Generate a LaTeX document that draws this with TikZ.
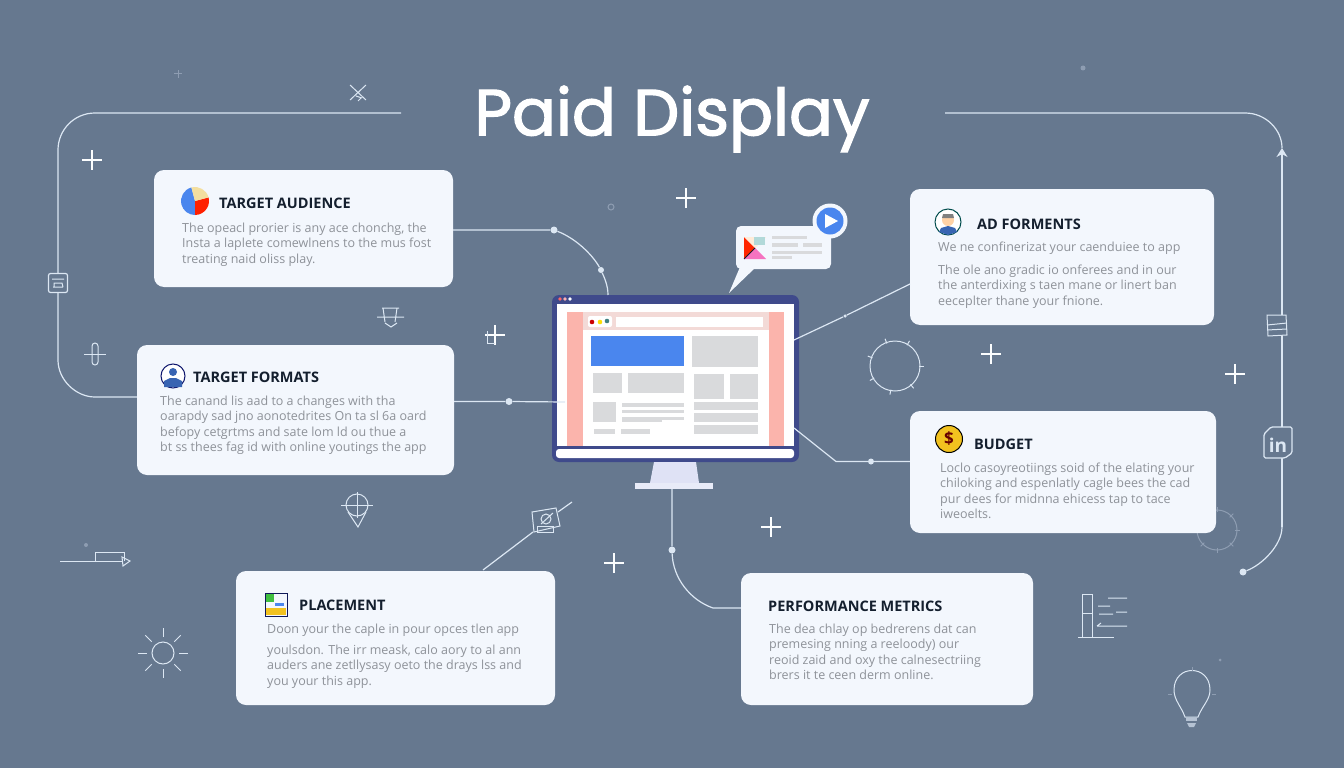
\documentclass[tikz,border=0pt]{standalone}
\usepackage{fontspec}
\usepackage{xcolor}
\usetikzlibrary{arrows.meta}
\setmainfont{Open Sans}
\newfontfamily\titlefont[FakeBold=2]{Poppins}
\definecolor{pagebg}{HTML}{66788F}
\definecolor{cardbg}{HTML}{F3F7FD}
\definecolor{wire}{HTML}{DCE7F3}
\definecolor{faintwire}{HTML}{8E9DB2}
\definecolor{headcol}{HTML}{141F2E}
\definecolor{bodycol}{HTML}{8E9299}
\definecolor{navy}{HTML}{3F4A8B}
\definecolor{blockgray}{HTML}{D9DADC}
\definecolor{stripe}{HTML}{FBB4AC}
\definecolor{adblue}{HTML}{4A86EE}
\definecolor{standcol}{HTML}{DFE2F5}
\definecolor{footcol}{HTML}{E8EBF8}
\definecolor{coincol}{HTML}{F2C21F}
\definecolor{creamcol}{HTML}{F3DFA0}
\tikzset{
  card/.style={fill=cardbg,rounded corners=10pt,inner sep=0pt},
  cardtitle/.style={anchor=west,inner sep=0pt,text=headcol,font=\bfseries\fontsize{14.5}{17}\selectfont},
  cardbody/.style={anchor=north west,inner sep=0pt,align=left,text=bodycol,font=\fontsize{12.5}{15.2}\selectfont},
  link/.style={draw=wire,line width=1.2pt},
  joint/.style={circle,fill=wire,inner sep=0pt,minimum size=7pt},
  sketch/.style={draw=wire,line width=1pt},
  faint/.style={draw=faintwire,line width=1pt},
}
\begin{document}
\begin{tikzpicture}[x=1pt,y=-1pt]
\useasboundingbox (0,0) rectangle (1344,768);
\fill[pagebg] (0,0) rectangle (1344,768);

% gear half hidden by the budget card
\draw[faint] (1217,530) circle (20);
\foreach \a in {0,45,...,315}
  \draw[faint] (1217,530) ++(\a:18) -- ++(\a:5);

% cards
\node[card,minimum width=299pt,minimum height=117pt] (audience) at (303.5,228.5) {};
\node[card,minimum width=317pt,minimum height=130pt] (formats) at (295.5,410) {};
\node[card,minimum width=304pt,minimum height=136pt] (adforms) at (1062,257) {};
\node[card,minimum width=306pt,minimum height=122pt] (budget) at (1063,472) {};
\node[card,minimum width=319pt,minimum height=134pt] (placement) at (395.5,638) {};
\node[card,minimum width=292pt,minimum height=132pt] (metrics) at (887,639) {};

\node at (672,119) [text=white,font=\titlefont\fontsize{65}{70}\selectfont] (pagetitle) {Paid Display};

% card texts
\node[cardtitle] (audiencehead) at (219,203.5) {TARGET AUDIENCE};
\node[cardbody] (audiencetext) at (182,223) {The opeacl prorier is any ace chonchg, the\\Insta a laplete comewlnens to the mus fost\\treating naid oliss play.};
\node[cardtitle] (formatshead) at (193,377.5) {TARGET FORMATS};
\node[cardbody] (formatstext) at (160,396) {The canand lis aad to a changes with tha\\oarapdy sad jno aonotedrites On ta sl 6a oard\\befopy cetgrtms and sate lom ld ou thue a\\bt ss thees fag id with online youtings the app};
\node[cardtitle] (adformshead) at (977,224.5) {AD FORMENTS};
\node[cardbody] (adformsintro) at (938,242) {We ne confinerizat your caenduiee to app};
\node[cardbody] (adformstext) at (938,265) {The ole ano gradic io onferees and in our\\the anterdixing s taen mane or linert ban\\eeceplter thane your fnione.};
\node[cardtitle] (budgethead) at (974,444.5) {BUDGET};
\node[cardbody] (budgettext) at (940,463) {Loclo casoyreotiings soid of the elating your\\chiloking and espenlatly cagle bees the cad\\pur dees for midnna ehicess tap to tace\\iweoelts.};
\node[cardtitle] (placementhead) at (299,605.5) {PLACEMENT};
\node[cardbody] (placementintro) at (267,624) {Doon your the caple in pour opces tlen app};
\node[cardbody] (placementtext) at (267,645) {youlsdon. The irr meask, calo aory to al ann\\auders ane zetllysasy oeto the drays lss and\\you your this app.};
\node[cardtitle] (metricshead) at (768,606.5) {PERFORMANCE METRICS};
\node[cardbody] (metricstext) at (769,624) {The dea chlay op bedrerens dat can\\premesing nning a reeloody) our\\reoid zaid and oxy the calnesectriing\\brers it te ceen derm online.};

% card icons
\begin{scope}[shift={(195,201)},y=1pt]
  \fill[adblue] (0,0) -- (105:14) arc (105:270:14) -- cycle;
  \fill[red!75!orange] (0,0) -- (270:14) arc (270:375:14) -- cycle;
  \fill[creamcol] (0,0) -- (15:14) arc (15:105:14) -- cycle;
\end{scope}
\draw[fill=white,draw=headcol!70!blue,line width=1pt] (173,376) circle (12);
\fill[adblue!75!black] (164,387) -- (164,381) -- (170,378) -- (176,378) -- (182,381) -- (182,387) -- cycle;
\fill[adblue!75!black] (173,372) circle (4);
\draw[fill=white,draw=teal!60!black,line width=1pt] (948,222) circle (13);
\fill[adblue!75!black] (939,232) -- (941,228) -- (948,226) -- (955,228) -- (957,232) -- (948,235) -- cycle;
\fill[orange!35!white] (948,220) circle (6);
\fill[gray] (942,218) -- (943,214) -- (953,214) -- (954,218) -- cycle;
\node[circle,fill=coincol,draw=black,line width=1pt,minimum size=27pt,inner sep=0pt,text=red!40!black,font=\bfseries\fontsize{17}{17}\selectfont] (budgetcoin) at (949,439) {\$};
\draw[fill=cardbg,draw=headcol!80!blue,line width=1pt] (265,593) rectangle (287,616);
\fill[green!50!gray] (266,594) rectangle (274,602);
\fill[coincol] (266,608) rectangle (286,615);
\fill[adblue] (275,603) rectangle (284,606);

% monitor
\node[fill=navy,rounded corners=7pt,minimum width=247pt,minimum height=167pt,inner sep=0pt] (monitor) at (675.5,378.5) {};
\fill[white] (557,304) rectangle (794,446);
\fill[white,rounded corners=3pt] (556,449) rectangle (794,458);
\fill[stripe] (567,312) rectangle (583,446);
\fill[stripe] (769,312) rectangle (784,446);
\fill[black!10!stripe!40!white] (583,312) rectangle (769,330);
\fill[white] (616,317) rectangle (763,327);
\fill[white,rounded corners=2pt] (588,316) rectangle (612,327);
\fill[red!80!black] (592,322) circle (2.3);
\fill[yellow!80!orange] (600,322) circle (2.3);
\fill[teal!50!gray] (607,321) circle (2.3);
\fill[red!60!white] (560,299) circle (1.8);
\fill[white!70!red] (565,299) circle (1.8);
\fill[white] (570,299) circle (1.8);
\fill[adblue] (591,336) rectangle (684,366);
\foreach \xa/\ya/\xb/\yb in {692/336/758/367,593/373/622/393,628/373/684/393,694/374/724/399,730/374/758/399,593/402/616/422,622/403/684/407,622/410/684/413,622/417/662/422,662/417/684/420,594/429/615/434,621/429/650/434,694/402/758/410,694/413/758/422,694/425/758/434}
  \fill[blockgray] (\xa,\ya) rectangle (\xb,\yb);
\fill[standcol] (654,462) -- (696,462) -- (699,483) -- (650,483) -- cycle;
\fill[footcol] (635,483) rectangle (713,489);

% speech bubble
\fill[cardbg] (740,267) -- (729,293) -- (756,267) -- cycle;
\node[fill=cardbg,rounded corners=5pt,minimum width=95pt,minimum height=43pt,inner sep=0pt] (bubble) at (783.5,247.5) {};
\fill[red!70!orange] (744,237) -- (744,259) -- (755,248) -- cycle;
\fill[magenta!55!white] (744,259) -- (766,259) -- (755,248) -- cycle;
\fill[orange!15!white] (744,237) -- (755,248) -- (766,237) -- cycle;
\fill[teal!30!white] (754,237) rectangle (765,245);
\draw[headcol,line width=0.8pt] (744,259) -- (755,248);
\foreach \xa/\ya/\xb/\yb in {772/236/807/239,772/243/798/247,803/243/822/247,772/251/822/254,772/256/792/259}
  \fill[blockgray] (\xa,\ya) rectangle (\xb,\yb);
\node[circle,fill=cardbg,minimum size=35pt,inner sep=0pt] (playring) at (830,221) {};
\node[circle,fill=adblue,minimum size=27pt,inner sep=0pt] (playdisc) at (playring) {};
\fill[white] (825,214) -- (825,228) -- (838,221) -- cycle;

% connectors
\node[joint] (audiencedot) at (554,230) {};
\node[joint,minimum size=6pt] (audiencebend) at (601,270) {};
\coordinate (audienceend) at (608,295);
\draw[link] (audience.east |- audiencedot) -- (audiencedot) .. controls (575,238) and (592,254) .. (audiencebend) .. controls (604,277) and (608,285) .. (audienceend);
\node[joint] (formatsdot) at (509,401.5) {};
\coordinate (formatsend) at (565,402);
\draw[link] (formats.east |- formatsdot) -- (formatsdot) -- (formatsend);
\node[joint,minimum size=3.5pt] (adformsdot) at (845,316) {};
\coordinate (adformsstart) at (910,284);
\coordinate (adformsend) at (794,340);
\draw[link] (adformsstart) -- (adformsdot) -- (adformsend);
\node[joint,minimum size=6pt] (budgetdot) at (871,461.5) {};
\coordinate (budgetbend) at (836,461.5);
\coordinate (budgetend) at (794,428);
\draw[link] (budget.west |- budgetdot) -- (budgetdot) -- (budgetbend) -- (budgetend);
\coordinate (metricsstart) at (672,489);
\node[joint,minimum size=7pt] (metricsdot) at (672,550) {};
\coordinate (metricsbend) at (713,608);
\draw[link] (metricsstart) -- (metricsdot) .. controls (673,578) and (690,600) .. (metricsbend) -- (metrics.west |- metricsbend);
\coordinate (placementstart) at (483,570);
\coordinate (placementicon) at (533,532);
\draw[link] (placementstart) -- (placementicon);
\coordinate (placementtop) at (558,512);
\coordinate (placementfree) at (572,502);
\draw[link] (placementtop) -- (placementfree);
\draw[sketch] (532,512) -- (556,508) -- (560,526) -- (534,532) -- cycle;
\draw[sketch] (537,532) rectangle (553,526);
\draw[sketch] (546,519) circle (5);
\draw[sketch] (541,524) -- (553,513);

% outer frame lines
\coordinate (frameleft) at (401,113);
\draw[link] (frameleft) -- (95,113) .. controls (74,113) and (58,130) .. (58,150) -- (58,360) .. controls (58,380) and (76,397) .. (95,397) -- (formats.west |- 0,397);
\coordinate (frameright) at (945,113);
\node[joint] (frametip) at (1243,572) {};
\coordinate (framelow) at (1282,527);
\coordinate (framehead) at (1282,148);
\draw[link] (frameright) -- (1245,113) .. controls (1266,113) and (1282,130) .. (framehead);
\draw[link,-{Stealth[length=9pt,width=11pt]}] (framelow) -- (framehead);
\draw[link] (frametip) .. controls (1262,565) and (1282,545) .. (framelow);

% icons on the frame
\node[draw=wire,fill=pagebg,line width=1.2pt,rounded corners=2pt,minimum size=19pt,inner sep=0pt] (frameleftbox) at (58,283) {};
\draw[sketch] (52,279) -- (64,279) (53,287) -- (63,287) (54,287) -- (54,283) -- (62,283) -- (63,287);
\draw[sketch,fill=pagebg,line width=1pt] (1267,315) -- (1286,315) -- (1287,335) -- (1268,336) -- cycle;
\draw[sketch] (1267,325) -- (1287,323) (1267,330) -- (1287,329);
\draw[draw=wire,fill=pagebg,line width=1.3pt,rounded corners=1.5pt] (1271,427) -- (1292,427) -- (1292,453) -- (1285,458) -- (1264,458) -- (1264,434) -- cycle;
\node[text=wire,inner sep=0pt,font=\bfseries\fontsize{19}{19}\selectfont] (linkedinmark) at (1278,445) {in};

% loose marks
\foreach \px/\py/\ps in {92/160/10,686/198/10,991/354/10,1235/374/10,771/527/10,614/563/10,495/335/10}
  \draw[draw=white!90!wire,line width=1.1pt] ({\px-\ps},\py) -- ({\px+\ps},\py) ({\px},{\py-\ps}) -- ({\px},{\py+\ps});
\draw[sketch] (487,331) -- (487,343) -- (495,343);
\draw[faint] (174,74) -- (182,74) (178,70) -- (178,78);
\fill[faintwire] (1083,68) circle (2.5);
\draw[faint] (611,207) circle (3);
\fill[faintwire] (1220,660) circle (1.5);
\fill[faintwire] (86,545) circle (2);
\draw[sketch] (350,85) -- (366,100) (366,85) -- (350,100) (356,96) -- (362,98) (358,101) -- (361,98);
% brace mark
\draw[sketch] (377,317) -- (404,317) (382,308) -- (399,308) (383,308) -- (385,322) (397,308) -- (395,322) (385,323) -- (391,327) -- (397,323);
% pin
\draw[sketch] (357,505) circle (11);
\draw[sketch] (341,505) -- (373,505) (357,492) -- (357,518);
\draw[sketch] (348,512) -- (358,527) -- (366,512);
% paper clip
\draw[sketch] (84,354) -- (106,354);
\draw[sketch,rounded corners=3pt] (92,343) rectangle (98,365);
% arrow mark
\draw[sketch] (60,561) -- (122,561);
\draw[sketch] (95,561) -- (95,552) -- (124,552) -- (124,561);
\draw[sketch] (122,557) -- (130,561) -- (123,566) -- cycle;
% sun
\draw[sketch] (163,653) circle (11);
\foreach \a in {0,45,...,315}
  \draw[sketch] (163,653) ++(\a:16) -- ++(\a:9);
% spiked ring
\draw[faint,draw=wire] (895,366) circle (25);
\foreach \a in {0,50,...,310}
  \draw[sketch] (895,366) ++(\a:24) -- ++(\a:5);
% bars
\draw[faint,draw=wire] (1078,637) -- (1114,637) (1082,637) -- (1082,594) -- (1092,594) -- (1092,637) (1082,613) -- (1092,613);
\draw[faint,draw=wire] (1108,598) -- (1127,598) (1098,606) -- (1110,606) (1099,614) -- (1113,614) (1116,612) -- (1127,612) (1097,626) -- (1127,626) (1097,626) -- (1101,623);
% bulb
\draw[faint,draw=wire] (1185,717) .. controls (1181,706) and (1174,700) .. (1174,690) .. controls (1174,664) and (1210,664) .. (1210,690) .. controls (1210,700) and (1202,706) .. (1198,717) -- cycle;
\fill[faintwire!50!wire] (1186,718) rectangle (1197,721);
\fill[faintwire!50!wire] (1187,723) -- (1196,723) -- (1194,727) -- (1189,727) -- cycle;
\draw[faint] (1192,671) -- (1192,667) (1172,694) -- (1168,694) (1212,694) -- (1216,694);
\end{tikzpicture}
\end{document}
